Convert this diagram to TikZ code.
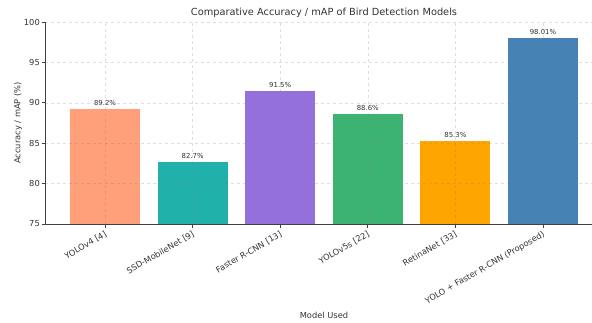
\documentclass[tikz,border=0pt]{standalone}
\usepackage{fontspec}
\setmainfont{DejaVu Sans}
\usetikzlibrary{positioning}
\definecolor{salmonbar}{HTML}{FFA07A}
\definecolor{seabar}{HTML}{20B2AA}
\definecolor{purplebar}{HTML}{9370DB}
\definecolor{greenbar}{HTML}{3CB371}
\definecolor{orangebar}{HTML}{FFA500}
\definecolor{bluebar}{HTML}{4682B4}

\begin{document}
\begin{tikzpicture}
  [x=1pt,y=1pt,every node/.style={text=black!80,inner sep=1pt},
   gridline/.style={gray,opacity=.25,dashed,line width=.4pt},
   spine/.style={black!75,line width=.7pt},
   ticklabel/.style={font=\fontsize{8.3}{10}\selectfont},
   valuelabel/.style={font=\fontsize{6.9}{8}\selectfont,anchor=south}]
  \useasboundingbox (0,0) rectangle (592,322);

  \node[font=\fontsize{9.8}{12}\selectfont] (title) at (324,309) {Comparative Accuracy / mAP of Bird Detection Models};
  \node[ticklabel,rotate=90] (ylab) at (18,199) {Accuracy / mAP (\%)};
  \node[ticklabel] (xlab) at (324,7) {Model Used};

  \begin{scope}[y=8.08pt,yshift=-508pt]
    % bars
    \foreach \x/\v/\c/\lab [count=\i] in {105/89.2/salmonbar/YOLOv4 [4],
        192.6/82.7/seabar/SSD-MobileNet [9], 280.2/91.5/purplebar/Faster R-CNN [13],
        367.8/88.6/greenbar/YOLOv5s [22], 455.4/85.3/orangebar/RetinaNet [33],
        543/98.01/bluebar/YOLO + Faster R-CNN (Proposed)}
    {
      \fill[\c] (\x-35,75) rectangle (\x+35,\v);
      \node[valuelabel] (val\i) at (\x,\v) [yshift=2pt] {\v\%};
      \draw[spine] (\x,75) -- ++(0,-3.5pt);
      \node[ticklabel,rotate=30,anchor=north east] (model\i) at (\x,75) [xshift=-3pt,yshift=-4pt] {\lab};
    }

    % grid
    \foreach \v in {80,85,...,100}
      \draw[gridline] (45,\v) -- (592,\v);
    \foreach \x in {105,192.6,280.2,367.8,455.4,543}
      \draw[gridline] (\x,75) -- (\x,100);

    % axes
    \coordinate (origin) at (45,75);
    \coordinate (ytop) at (45,100);
    \coordinate (xend) at (592,75);
    \draw[spine] (ytop) -- (origin) -- (xend);
    \foreach \v in {75,80,...,100}
    {
      \draw[spine] (45,\v) -- ++(-3.5pt,0);
      \node[ticklabel,anchor=east] (tick\v) at (45,\v) [xshift=-4pt] {\v};
    }
  \end{scope}
\end{tikzpicture}
\end{document}
